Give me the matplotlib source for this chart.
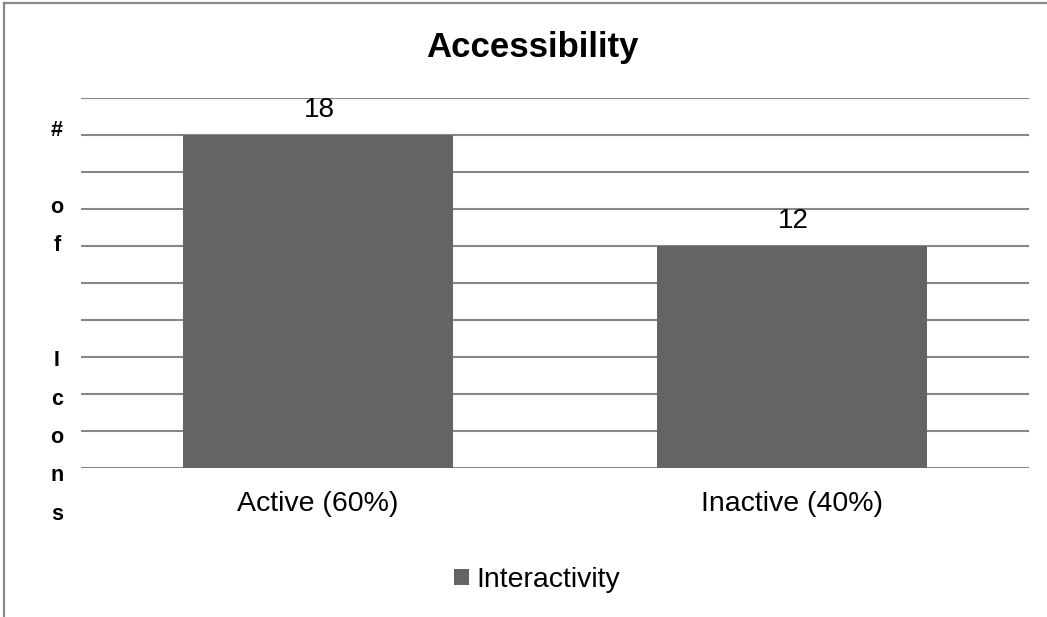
import matplotlib
matplotlib.use("Agg")
import matplotlib.pyplot as plt
from matplotlib.patches import Patch
from matplotlib.lines import Line2D

plt.rcParams['font.family'] = ['Liberation Sans', 'DejaVu Sans']

# Data
categories = ["Active (60%)", "Inactive (40%)"]
icon_counts = [18, 12]
series_name = "Interactivity"
chart_title = "Accessibility"
y_label = "# of Icons"

W, H, DPI = 1047, 617, 100
fig = plt.figure(figsize=(W / DPI, H / DPI), dpi=DPI)
fig.patch.set_facecolor("white")

# Plot area in pixel terms
left_px, right_px, top_px, bottom_px = 81, 1029, 98, 467.5
ax = fig.add_axes([left_px / W, 1 - bottom_px / H,
                   (right_px - left_px) / W, (bottom_px - top_px) / H])

bar_color = "#646464"
grid_color = "#878787"

x = list(range(len(categories)))
bars = ax.bar(x, icon_counts, width=0.57, color=bar_color, zorder=3)

ax.set_xlim(-0.5, len(categories) - 0.5)
ax.set_ylim(0, 20)
ax.set_yticks(range(0, 21, 2))
ax.yaxis.grid(True, color=grid_color, linewidth=1.5, zorder=0)
ax.set_axisbelow(True)
ax.tick_params(axis="y", length=0, labelleft=False)
ax.tick_params(axis="x", length=0, pad=17, labelsize=20.5)
ax.set_xticks(x)
ax.set_xticklabels(categories)
for s in ax.spines.values():
    s.set_visible(False)

# Value labels above bars
for xi, v in zip(x, icon_counts):
    ax.annotate(str(v), (xi, v), xytext=(1, 8.5), textcoords="offset points",
                ha="center", va="bottom", fontsize=20)

# Title
fig.text(532 / W, 1 - 57 / H, chart_title, ha="center", va="baseline",
         fontsize=25, fontweight="bold")

# Vertical stacked axis label built from "# of Icons", one character per line
label_chars = ["#", "", "o", "f", "", "", "I", "c", "o", "n", "s"]
for i, ch in enumerate(label_chars):
    if ch:
        fig.text(57 / W, 1 - (131 + 38.3 * i) / H, ch, ha="center",
                 va="center", fontsize=15.5, fontweight="bold")

# Legend
handle = Patch(facecolor=bar_color, edgecolor="none")
fig.legend([handle], [series_name], loc="center",
           bbox_to_anchor=(537 / W, 1 - 580 / H), frameon=False,
           fontsize=20.5, handlelength=0.52, handleheight=0.52,
           handletextpad=0.25)

# Outer frame (top and left edges)
frame_color = "#8a8a8a"
fig.add_artist(Line2D([4 / W, 4 / W], [0, 1 - 3 / H], transform=fig.transFigure,
                      color=frame_color, linewidth=1.6))
fig.add_artist(Line2D([4 / W, 1], [1 - 3 / H, 1 - 3 / H], transform=fig.transFigure,
                      color=frame_color, linewidth=1.6))

fig.savefig("out.png", dpi=DPI)
